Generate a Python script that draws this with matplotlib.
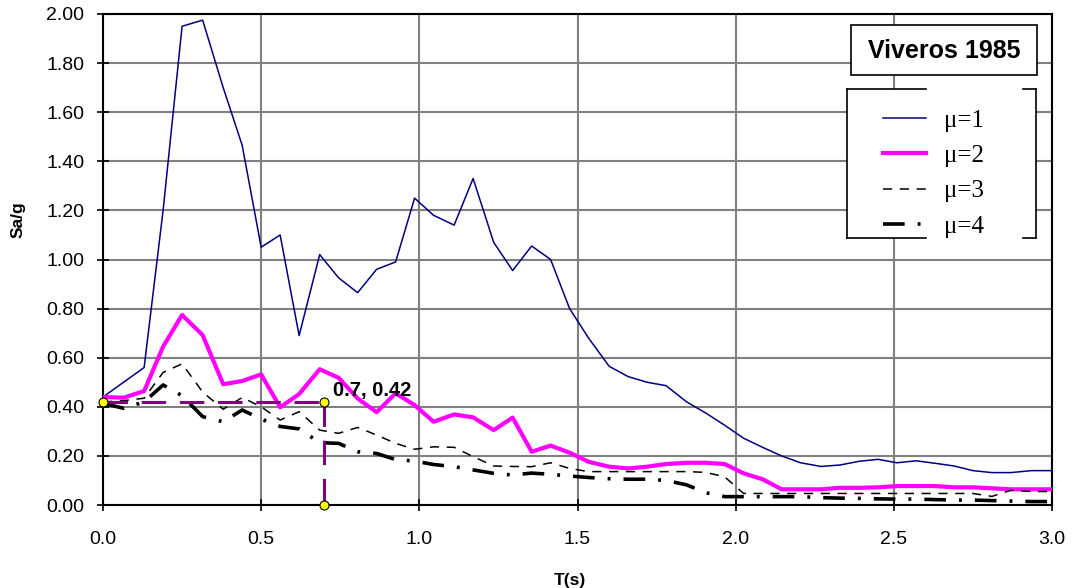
import matplotlib
matplotlib.use("Agg")
import matplotlib.pyplot as plt
from matplotlib.lines import Line2D
from matplotlib.patches import Rectangle
import numpy as np

plt.rcParams["font.family"] = ["Liberation Sans", "DejaVu Sans"]

# Period (s)
T = [0.0, 0.065, 0.13, 0.19, 0.25, 0.315, 0.38, 0.44, 0.50, 0.56,
     0.62, 0.685, 0.745, 0.805, 0.865, 0.925, 0.985, 1.045, 1.11, 1.17,
     1.235, 1.295, 1.355, 1.415, 1.475, 1.535, 1.60, 1.66, 1.72, 1.78,
     1.845, 1.905, 1.965, 2.025, 2.085, 2.145, 2.205, 2.27, 2.33, 2.39,
     2.45, 2.51, 2.57, 2.63, 2.69, 2.75, 2.81, 2.87, 2.935, 3.0]

# Sa/g for each ductility
mu1 = [0.44, 0.50, 0.56, 1.20, 1.95, 1.975, 1.70, 1.465, 1.05, 1.10,
       0.69, 1.02, 0.925, 0.865, 0.96, 0.99, 1.25, 1.18, 1.14, 1.33,
       1.07, 0.955, 1.055, 1.00, 0.80, 0.68, 0.565, 0.523, 0.50, 0.486,
       0.42, 0.375, 0.325, 0.272, 0.235, 0.20, 0.172, 0.157, 0.163, 0.178,
       0.186, 0.172, 0.18, 0.17, 0.159, 0.14, 0.132, 0.132, 0.14, 0.14]
mu2 = [0.44, 0.437, 0.464, 0.645, 0.774, 0.692, 0.492, 0.505, 0.532, 0.398,
       0.452, 0.553, 0.518, 0.434, 0.378, 0.455, 0.407, 0.339, 0.369, 0.357,
       0.305, 0.356, 0.217, 0.242, 0.213, 0.176, 0.156, 0.149, 0.156, 0.167,
       0.172, 0.172, 0.167, 0.129, 0.105, 0.064, 0.064, 0.064, 0.070, 0.070,
       0.072, 0.077, 0.077, 0.077, 0.072, 0.072, 0.068, 0.064, 0.064, 0.064]
mu3 = [0.42, 0.425, 0.435, 0.54, 0.575, 0.46, 0.39, 0.438, 0.40, 0.346,
       0.38, 0.305, 0.292, 0.316, 0.285, 0.251, 0.227, 0.237, 0.235, 0.197,
       0.159, 0.157, 0.156, 0.172, 0.149, 0.136, 0.136, 0.136, 0.136, 0.136,
       0.136, 0.133, 0.115, 0.047, 0.047, 0.047, 0.047, 0.047, 0.047, 0.047,
       0.047, 0.047, 0.047, 0.047, 0.047, 0.047, 0.035, 0.06, 0.055, 0.055]
mu4 = [0.414, 0.394, 0.42, 0.489, 0.445, 0.36, 0.339, 0.387, 0.35, 0.32,
       0.31, 0.254, 0.251, 0.217, 0.21, 0.185, 0.179, 0.165, 0.156, 0.143,
       0.129, 0.122, 0.13, 0.125, 0.118, 0.112, 0.107, 0.105, 0.105, 0.10,
       0.082, 0.05, 0.034, 0.034, 0.034, 0.034, 0.034, 0.03, 0.028, 0.027,
       0.025, 0.024, 0.024, 0.022, 0.02, 0.02, 0.018, 0.016, 0.014, 0.014]

labels = ["\u03bc=1", "\u03bc=2", "\u03bc=3", "\u03bc=4"]

# marked point
T_PT = 0.7
SA_PT = 0.42

W, H = 1072, 588
fig = plt.figure(figsize=(W / 100, H / 100), dpi=100)
ax = fig.add_axes([103 / W, 1 - 505 / H, 949 / W, 491 / H])

l1, = ax.plot(T, mu1, color="#000080", lw=1.1, zorder=3)
l2, = ax.plot(T, mu2, color="#ff00ff", lw=3.0, zorder=3)
l3, = ax.plot(T, mu3, color="black", lw=1.1, dashes=(6, 5), zorder=3)
l4, = ax.plot(T, mu4, color="black", lw=2.6, dashes=(6, 3.6, 0.8, 3.6),
              solid_capstyle="butt", dash_capstyle="butt", zorder=3)

# guide lines to the marked point
ax.plot([0, T_PT], [SA_PT, SA_PT], color="#800080", lw=2.2, dashes=(8, 4.5),
        dash_capstyle="butt", zorder=4)
ax.plot([T_PT, T_PT], [SA_PT, 0], color="#800080", lw=2.2, dashes=(8, 4.5),
        dash_capstyle="butt", zorder=4)
ax.plot([0, T_PT, T_PT], [SA_PT, SA_PT, 0], ls="none", marker="o", ms=6.5,
        mfc="#ffff00", mec="black", mew=0.8, zorder=6, clip_on=False)
ax.text(T_PT + 0.027, SA_PT + 0.024, f"{T_PT}, {SA_PT}", fontsize=14.5,
        fontweight="bold", va="baseline", zorder=7)

ax.set_xlim(0, 3)
ax.set_ylim(0, 2)
ax.set_xticks(np.arange(0, 3.01, 0.5))
ax.set_yticks(np.arange(0, 2.01, 0.2))
ax.set_xticklabels([f"{v:.1f}" for v in np.arange(0, 3.01, 0.5)])
ax.set_yticklabels([f"{v:.2f}" for v in np.arange(0, 2.01, 0.2)])
ax.tick_params(axis="both", direction="inout", length=9, width=1.2,
               labelsize=14)
ax.tick_params(axis="y", pad=9)
ax.tick_params(axis="x", pad=14)
ax.grid(True, color="#808080", lw=1.5)
ax.set_axisbelow(True)
for sp in ax.spines.values():
    sp.set_linewidth(1.5)
    sp.set_color("black")

fig.text(18 / W, 1 - 220 / H, "Sa/g", rotation=90, ha="center", va="center",
         fontsize=12.5, fontweight="bold")
fig.text(570 / W, 1 - 580 / H, "T(s)", ha="center", va="center",
         fontsize=12.5, fontweight="bold")

# title box
fig.add_artist(Rectangle((851 / W, 1 - 75 / H), 186 / W, 50 / H,
                         transform=fig.transFigure, facecolor="white",
                         edgecolor="black", lw=1.2, zorder=2))
fig.text(944 / W, 1 - 51 / H, "Viveros 1985", ha="center", va="center",
         fontsize=18, fontweight="bold", zorder=3)

# legend box (white area with partial border)
fig.add_artist(Rectangle((847 / W, 1 - 238 / H), 189 / W, 149 / H,
                         transform=fig.transFigure, facecolor="white",
                         edgecolor="none", zorder=2))
border = [
    ([847, 847], [89, 238]),
    ([847, 926], [89, 89]),
    ([847, 926], [238, 238]),
    ([1023, 1036], [89, 89]),
    ([1023, 1036], [238, 238]),
    ([1036, 1036], [89, 238]),
]
for xs, ys in border:
    fig.add_artist(Line2D([x / W for x in xs], [1 - y / H for y in ys],
                          transform=fig.transFigure, color="black", lw=1.2,
                          zorder=3))

leg = fig.legend([l1, l2, l3, l4], labels, loc="upper left",
                 bbox_to_anchor=(883 / W, 1 - 109 / H), frameon=False,
                 borderpad=0, borderaxespad=0, handlelength=1.7,
                 handletextpad=0.75, labelspacing=0.52,
                 prop={"family": "Liberation Serif", "size": 18})
leg.set_zorder(4)

fig.savefig("out.png", dpi=100)
